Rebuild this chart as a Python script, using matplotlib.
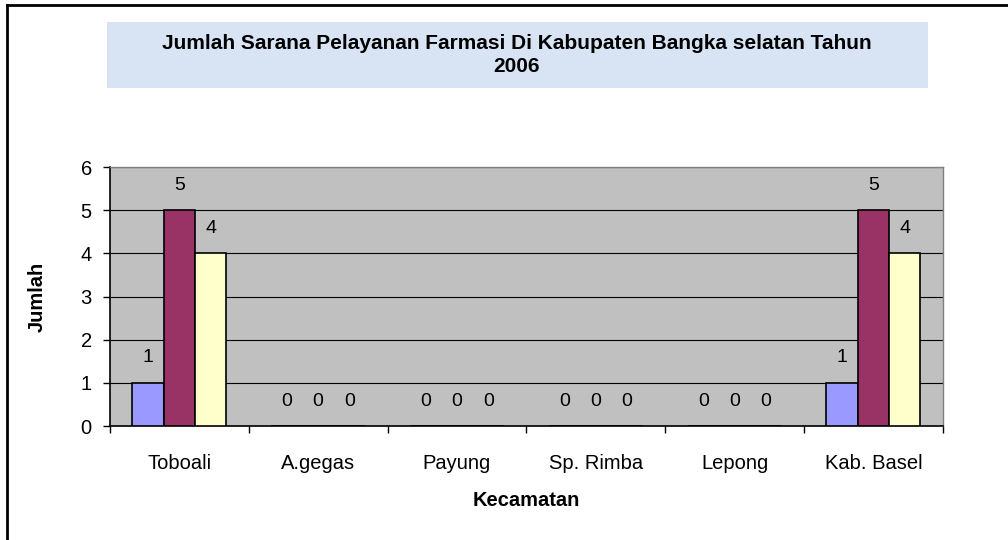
import matplotlib.pyplot as plt
import numpy as np
from matplotlib.patches import Rectangle

plt.rcParams['font.family'] = ['Liberation Sans', 'DejaVu Sans']

kecamatan = ["Toboali", "A.gegas", "Payung", "Sp. Rimba", "Lepong", "Kab. Basel"]
seri1 = [1, 0, 0, 0, 0, 1]
seri2 = [5, 0, 0, 0, 0, 5]
seri3 = [4, 0, 0, 0, 0, 4]
warna = ["#9999FF", "#993366", "#FFFFCC"]

fig = plt.figure(figsize=(10.08, 5.4), dpi=100)
ax = fig.add_axes([0.109, 0.211, 0.8264, 0.4796])
ax.set_facecolor("#C0C0C0")

x = np.arange(len(kecamatan))
w = 0.2257
for i, vals in enumerate([seri1, seri2, seri3]):
    pos = x + (i - 1) * w
    ax.bar(pos, vals, w, color=warna[i], edgecolor="black", linewidth=1.2, zorder=3)
    for p, v in zip(pos, vals):
        ax.annotate(str(v), (p, v), xytext=(0, 18), textcoords="offset points",
                    ha="center", va="center", fontsize=14)

ax.set_xlim(-0.5, len(kecamatan) - 0.5)
ax.set_ylim(0, 6)
ax.set_yticks(range(7))
ax.yaxis.grid(True, color="black", linewidth=0.8, zorder=1)
ax.set_axisbelow(True)

ax.set_xticks(x)
ax.set_xticklabels(kecamatan, fontsize=14.5)
ax.set_xticks(np.arange(-0.5, len(kecamatan)), minor=True)
ax.tick_params(axis="x", which="major", length=0, pad=20)
ax.tick_params(axis="x", which="minor", length=5, width=1)
ax.tick_params(axis="y", labelsize=14.5, length=5, width=1, pad=8)

for s in ["top", "right"]:
    ax.spines[s].set_color("#808080")
    ax.spines[s].set_linewidth(1)
for s in ["left", "bottom"]:
    ax.spines[s].set_color("black")
    ax.spines[s].set_linewidth(1.2)

ax.set_ylabel("Jumlah", fontsize=14.5, fontweight="bold", va="center")
ax.yaxis.set_label_coords((37 - 110) / 833, 0.5)
ax.set_xlabel("Kecamatan", fontsize=14.5, fontweight="bold", va="center")
ax.xaxis.set_label_coords(0.5, (426 - 500) / 259)

# title box
fig.patches.append(Rectangle((107 / 1008, 1 - 88 / 540), 821 / 1008, 66 / 540,
                             transform=fig.transFigure, facecolor="#D8E4F4",
                             edgecolor="none", zorder=0))
fig.text(517 / 1008, 1 - 55 / 540,
         "Jumlah Sarana Pelayanan Farmasi Di Kabupaten Bangka selatan Tahun\n2006",
         ha="center", va="center", fontsize=15, fontweight="bold", linespacing=1.25)

# figure border (top and left only visible)
fig.add_artist(plt.Line2D([7 / 1008, 7 / 1008], [0, 1 - 5 / 540], transform=fig.transFigure,
                          color="black", linewidth=2))
fig.add_artist(plt.Line2D([7 / 1008, 1], [1 - 5 / 540, 1 - 5 / 540], transform=fig.transFigure,
                          color="black", linewidth=2))

fig.savefig("out.png", dpi=100)
